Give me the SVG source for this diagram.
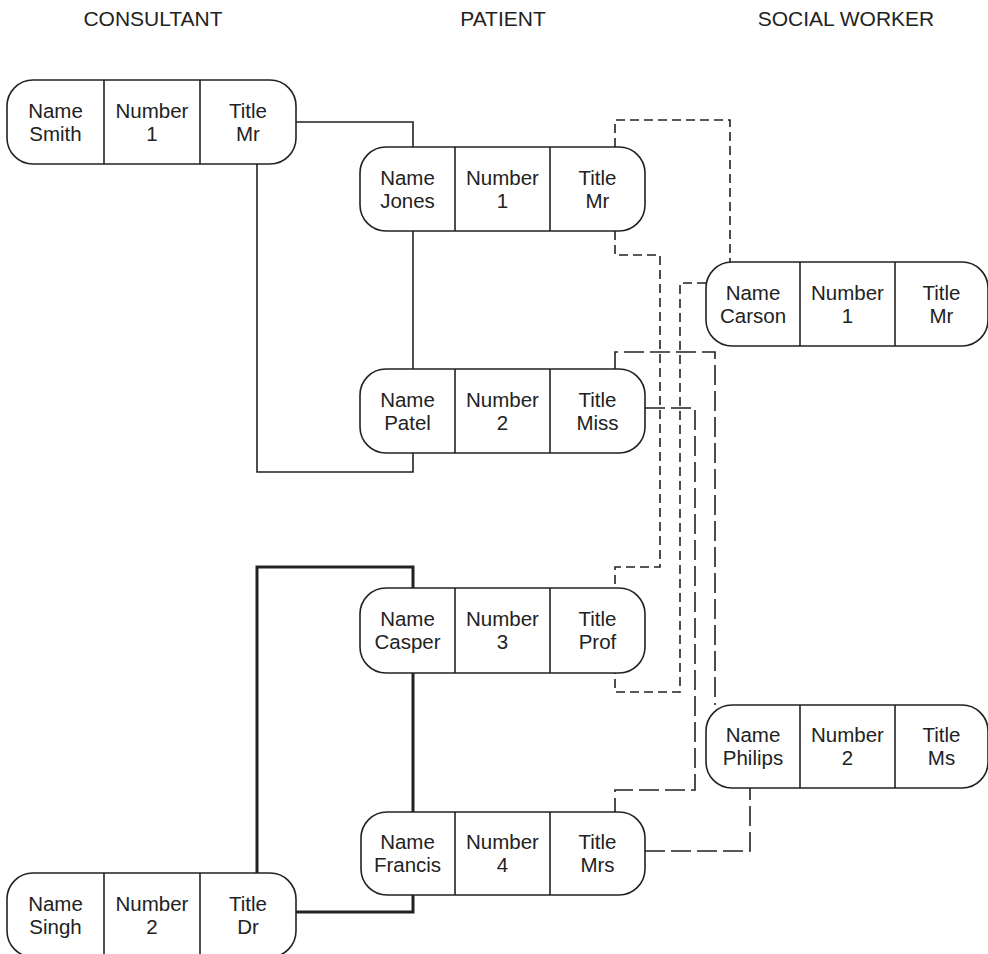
<svg xmlns="http://www.w3.org/2000/svg" width="988" height="954" viewBox="0 0 988 954">
<style>
.hdr{font-family:"Liberation Sans",Arial,sans-serif;font-size:21px;fill:#222;text-anchor:middle}
.t{font-family:"Liberation Sans",Arial,sans-serif;font-size:20.5px;fill:#222;text-anchor:middle}
.box{fill:#fff;stroke:#222;stroke-width:1.6}
.div{stroke:#222;stroke-width:1.6}
.solid{fill:none;stroke:#222;stroke-width:1.6}
.thick{fill:none;stroke:#222;stroke-width:3}
.short{fill:none;stroke:#222;stroke-width:1.6;stroke-dasharray:9 5}
.long{fill:none;stroke:#222;stroke-width:1.6;stroke-dasharray:20 6}
</style>
<rect width="988" height="954" fill="#fff"/>
<g id="headers">
<text class="hdr" x="153" y="26">CONSULTANT</text>
<text class="hdr" x="503" y="26">PATIENT</text>
<text class="hdr" x="846" y="26">SOCIAL WORKER</text>
</g>
<g id="connectors">
<path class="solid" d="M296,122 H413 V147"/>
<path class="solid" d="M413,231 V369"/>
<path class="solid" d="M257,164 V472 H413 V453"/>
<path class="thick" d="M257,873 V567 H413 V588"/>
<path class="thick" d="M413,673 V812"/>
<path class="thick" d="M413,895 V912 H296"/>
<path class="short" d="M615,147 V120 H730 V262"/>
<path class="short" d="M615,231 V255 H660 V567 H615 V588"/>
<path class="short" d="M706,283 H680 V692 H615 V673"/>
<path class="long" d="M645,408 H695 V790 H615 V812"/>
<path class="long" d="M615,369 V352 H715 V705"/>
<path class="long" d="M645,851 H750 V788"/>
</g>
<g id="smith">
<rect class="box" x="7" y="80" width="289" height="84" rx="26"/>
<line class="div" x1="104" y1="80" x2="104" y2="164"/><line class="div" x1="200" y1="80" x2="200" y2="164"/>
<text class="t" x="55.5" y="118">Name</text><text class="t" x="55.5" y="141">Smith</text>
<text class="t" x="152" y="118">Number</text><text class="t" x="152" y="141">1</text>
<text class="t" x="248" y="118">Title</text><text class="t" x="248" y="141">Mr</text>
</g>
<g id="singh">
<rect class="box" x="7" y="873" width="289" height="84" rx="26"/>
<line class="div" x1="104" y1="873" x2="104" y2="957"/><line class="div" x1="200" y1="873" x2="200" y2="957"/>
<text class="t" x="55.5" y="911">Name</text><text class="t" x="55.5" y="934">Singh</text>
<text class="t" x="152" y="911">Number</text><text class="t" x="152" y="934">2</text>
<text class="t" x="248" y="911">Title</text><text class="t" x="248" y="934">Dr</text>
</g>
<g id="jones">
<rect class="box" x="360" y="147" width="285" height="84" rx="26"/>
<line class="div" x1="455" y1="147" x2="455" y2="231"/><line class="div" x1="550" y1="147" x2="550" y2="231"/>
<text class="t" x="407.5" y="185">Name</text><text class="t" x="407.5" y="208">Jones</text>
<text class="t" x="502.5" y="185">Number</text><text class="t" x="502.5" y="208">1</text>
<text class="t" x="597.5" y="185">Title</text><text class="t" x="597.5" y="208">Mr</text>
</g>
<g id="patel">
<rect class="box" x="360" y="369" width="285" height="84" rx="26"/>
<line class="div" x1="455" y1="369" x2="455" y2="453"/><line class="div" x1="550" y1="369" x2="550" y2="453"/>
<text class="t" x="407.5" y="407">Name</text><text class="t" x="407.5" y="430">Patel</text>
<text class="t" x="502.5" y="407">Number</text><text class="t" x="502.5" y="430">2</text>
<text class="t" x="597.5" y="407">Title</text><text class="t" x="597.5" y="430">Miss</text>
</g>
<g id="casper">
<rect class="box" x="360" y="588" width="285" height="85" rx="26"/>
<line class="div" x1="455" y1="588" x2="455" y2="673"/><line class="div" x1="550" y1="588" x2="550" y2="673"/>
<text class="t" x="407.5" y="626">Name</text><text class="t" x="407.5" y="649">Casper</text>
<text class="t" x="502.5" y="626">Number</text><text class="t" x="502.5" y="649">3</text>
<text class="t" x="597.5" y="626">Title</text><text class="t" x="597.5" y="649">Prof</text>
</g>
<g id="francis">
<rect class="box" x="361" y="812" width="284" height="83" rx="26"/>
<line class="div" x1="455" y1="812" x2="455" y2="895"/><line class="div" x1="550" y1="812" x2="550" y2="895"/>
<text class="t" x="407.5" y="849">Name</text><text class="t" x="407.5" y="872">Francis</text>
<text class="t" x="502.5" y="849">Number</text><text class="t" x="502.5" y="872">4</text>
<text class="t" x="597.5" y="849">Title</text><text class="t" x="597.5" y="872">Mrs</text>
</g>
<g id="carson">
<rect class="box" x="706" y="262" width="282" height="84" rx="26"/>
<line class="div" x1="800" y1="262" x2="800" y2="346"/><line class="div" x1="895" y1="262" x2="895" y2="346"/>
<text class="t" x="753" y="300">Name</text><text class="t" x="753" y="323">Carson</text>
<text class="t" x="847.5" y="300">Number</text><text class="t" x="847.5" y="323">1</text>
<text class="t" x="941.5" y="300">Title</text><text class="t" x="941.5" y="323">Mr</text>
</g>
<g id="philips">
<rect class="box" x="706" y="705" width="282" height="83" rx="26"/>
<line class="div" x1="800" y1="705" x2="800" y2="788"/><line class="div" x1="895" y1="705" x2="895" y2="788"/>
<text class="t" x="753" y="742">Name</text><text class="t" x="753" y="765">Philips</text>
<text class="t" x="847.5" y="742">Number</text><text class="t" x="847.5" y="765">2</text>
<text class="t" x="941.5" y="742">Title</text><text class="t" x="941.5" y="765">Ms</text>
</g>
</svg>
